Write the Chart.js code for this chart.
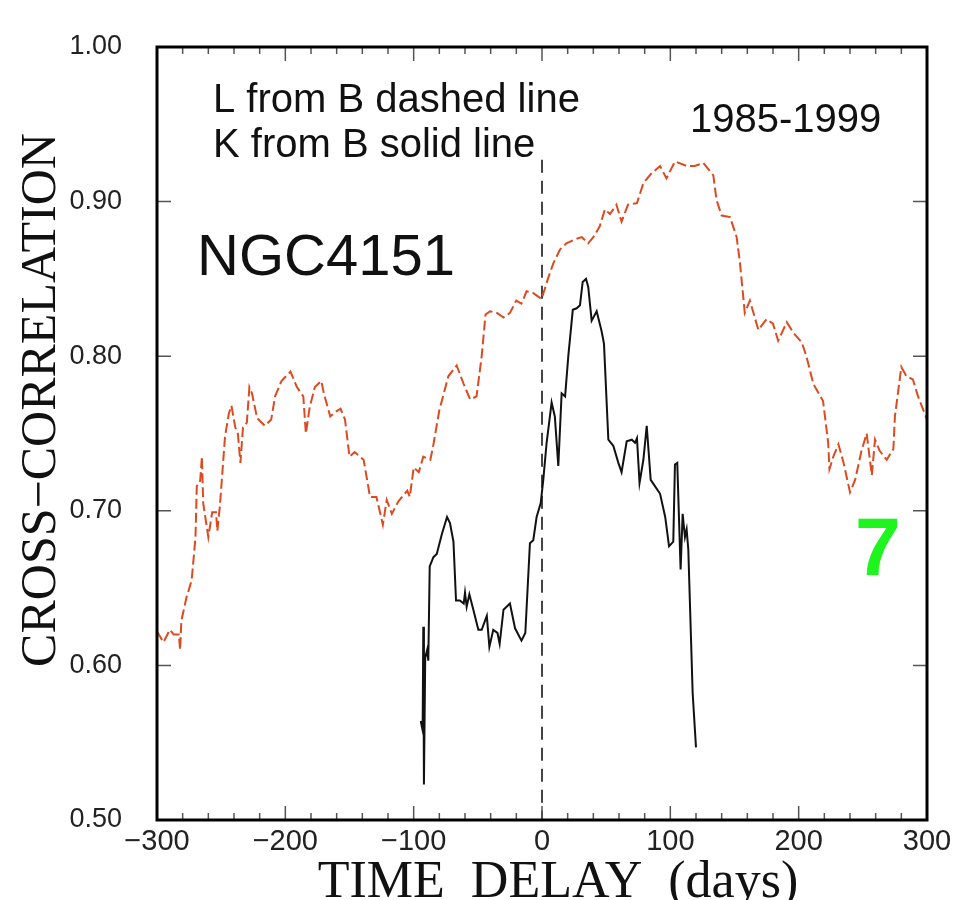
<!DOCTYPE html>
<html>
<head>
<meta charset="utf-8">
<script src="https://cdn.jsdelivr.net/npm/chart.js@4.4.1/dist/chart.umd.min.js"></script>
<style>
  html, body { margin: 0; padding: 0; background: #fff; }
  #wrap { width: 958px; height: 900px; }
</style>
</head>
<body>
<div id="wrap"><canvas id="ccf"></canvas></div>
<script>
// L from B (dashed) cross-correlation
const lagL = [-300, -295, -290, -287, -283, -282, -281, -277, -273, -270, -269, -266.5, -265, -264, -260, -257, -254, -253, -251,
  -247, -244, -242, -239, -237, -235, -233, -230, -228, -226, -222, -216, -211, -208, -203, -196, -191, -186, -184, -181,
  -177, -172, -170, -165, -161, -157, -153.5, -150, -146, -139, -134, -129, -124, -121, -117, -112, -105, -103, -100, -96,
  -92.5, -87, -85, -80, -73, -66.5, -61, -56, -51, -47, -44, -40.5, -35, -30, -25, -20, -16, -12, -7, -0.3, 5, 8.8, 14,
  19, 27, 31, 36, 40, 45, 49, 53, 58, 62, 67, 74, 79, 85, 92, 97, 103.6, 113, 119, 125.7, 133.5, 136, 140, 146.5, 151.7,
  154.3, 158, 162, 168.6, 175, 180, 184, 190.7, 196, 202.4, 206, 211.5, 219, 223, 224, 227, 231, 235, 240, 244, 249, 253,
  257, 259.5, 263, 268.6, 273.8, 275, 280, 284, 289, 293, 300];
const corrL = [0.622, 0.615, 0.623, 0.620, 0.620, 0.610, 0.629, 0.644, 0.655, 0.683, 0.716, 0.718, 0.735, 0.705, 0.683, 0.699, 0.699, 0.687, 0.703,
  0.748, 0.763, 0.768, 0.754, 0.750, 0.731, 0.754, 0.757, 0.780, 0.776, 0.760, 0.755, 0.759, 0.774, 0.784, 0.790, 0.780, 0.774, 0.750, 0.767,
  0.780, 0.784, 0.776, 0.761, 0.764, 0.766, 0.759, 0.735, 0.738, 0.733, 0.709, 0.709, 0.691, 0.707, 0.698, 0.706, 0.713, 0.709, 0.728, 0.725,
  0.735, 0.733, 0.741, 0.765, 0.787, 0.794, 0.782, 0.772, 0.774, 0.800, 0.827, 0.829, 0.828, 0.825, 0.828, 0.836, 0.834, 0.842, 0.841, 0.837, 0.851, 0.860, 0.869,
  0.873, 0.876, 0.877, 0.873, 0.877, 0.884, 0.895, 0.892, 0.898, 0.887, 0.898, 0.899, 0.912, 0.918, 0.923, 0.915, 0.926, 0.923, 0.923, 0.925, 0.917, 0.901, 0.891, 0.890, 0.877,
  0.860, 0.828, 0.836, 0.817, 0.824, 0.821, 0.810, 0.822, 0.815, 0.809, 0.800, 0.782, 0.771, 0.744, 0.727, 0.735, 0.743, 0.731, 0.712, 0.720, 0.739, 0.750,
  0.723, 0.746, 0.739, 0.733, 0.740, 0.761, 0.793, 0.787, 0.785, 0.774, 0.759];

// K from B (solid) cross-correlation
const lagK = [-94.5, -93, -92.5, -92, -91, -89.5, -88.6, -87.5, -84.6, -82, -78, -74, -71.7, -69, -67, -64, -61, -60, -58.7, -56.6,
  -53.5, -49.6, -47, -43, -41, -38, -34.7, -33, -30, -25, -21, -16, -13, -9.4, -6.8, -4.2, -1, 1, 3.6, 7.5, 10, 12.7, 15.3,
  18, 20.5, 24, 27, 29.6, 31.7, 34.3, 36, 38.7, 42.6, 46.5, 48.3, 51.7, 55.6, 59.5, 62, 66, 70, 72.5, 74, 76, 79, 81.6,
  84.7, 88, 92, 96, 99, 102.3, 103.6, 105.4, 108, 109.6, 111.4, 112.7, 114, 117.4, 120];
const corrK = [0.564, 0.558, 0.625, 0.523, 0.605, 0.610, 0.603, 0.664, 0.670, 0.672, 0.685, 0.696, 0.692, 0.680, 0.642, 0.642, 0.640, 0.647, 0.638, 0.646,
  0.636, 0.623, 0.623, 0.632, 0.612, 0.623, 0.621, 0.614, 0.636, 0.640, 0.624, 0.616, 0.621, 0.679, 0.681, 0.696, 0.705, 0.720, 0.744, 0.770, 0.761, 0.729, 0.776,
  0.774, 0.800, 0.830, 0.831, 0.833, 0.848, 0.850, 0.845, 0.823, 0.829, 0.816, 0.808, 0.746, 0.742, 0.731, 0.725, 0.745, 0.746, 0.744, 0.747, 0.718, 0.733, 0.755,
  0.720, 0.716, 0.711, 0.696, 0.677, 0.680, 0.730, 0.731, 0.662, 0.698, 0.683, 0.688, 0.675, 0.582, 0.547];

// zero-lag marker
const zeroLag = [0, 0];
const zeroCorr = [0.927, 0.5];

const xTicks = [-300, -200, -100, 0, 100, 200, 300];
const yTicks = [0.5, 0.6, 0.7, 0.8, 0.9, 1.0];

const toPts = (xs, ys) => xs.map((x, i) => ({ x: x, y: ys[i] }));

const frameAndLabels = {
  id: 'frameAndLabels',
  afterDatasetsDraw(chart) {
    const { ctx, chartArea: a, scales: { x, y } } = chart;
    ctx.save();
    // inward ticks
    ctx.strokeStyle = '#555';
    ctx.lineWidth = 1.5;
    ctx.beginPath();
    for (let d = -300; d <= 300; d += 20) {
      const px = x.getPixelForValue(d);
      const len = d % 100 === 0 ? 14 : 7;
      ctx.moveTo(px, a.bottom); ctx.lineTo(px, a.bottom - len);
      ctx.moveTo(px, a.top); ctx.lineTo(px, a.top + len);
    }
    yTicks.forEach(v => {
      const py = y.getPixelForValue(v);
      ctx.moveTo(a.left, py); ctx.lineTo(a.left + 14, py);
      ctx.moveTo(a.right, py); ctx.lineTo(a.right - 14, py);
    });
    ctx.stroke();
    // frame
    ctx.strokeStyle = '#000';
    ctx.lineWidth = 3;
    ctx.strokeRect(a.left, a.top, a.right - a.left, a.bottom - a.top);

    // axis titles
    ctx.fillStyle = '#111';
    ctx.textAlign = 'center';
    ctx.textBaseline = 'alphabetic';
    ctx.font = '52px "Liberation Serif", "DejaVu Serif", serif';
    ctx.fillText('TIME  DELAY  (days)', 558, 897);
    ctx.save();
    ctx.translate(55, 400);
    ctx.rotate(-Math.PI / 2);
    ctx.font = '50px "Liberation Serif", "DejaVu Serif", serif';
    ctx.fillText('CROSS\u2212CORRELATION', 0, 0);
    ctx.restore();

    // annotations
    ctx.textAlign = 'left';
    ctx.font = '40px "Liberation Sans", Arial, sans-serif';
    ctx.fillText('L from B dashed line', 213, 112);
    ctx.fillText('K from B solid line', 213, 157);
    ctx.fillText('1985-1999', 690, 132);
    ctx.font = '58px "Liberation Sans", Arial, sans-serif';
    ctx.fillText('NGC4151', 197, 275);
    ctx.fillStyle = '#1ef51e';
    ctx.font = 'bold 82px "Liberation Sans", Arial, sans-serif';
    ctx.fillText('7', 855, 575);
    ctx.restore();
  }
};

const ctx = document.getElementById('ccf').getContext('2d');
new Chart(ctx, {
  type: 'line',
  data: {
    datasets: [
      {
        data: toPts(lagL, corrL),
        borderColor: '#dc4a20',
        borderWidth: 2,
        borderDash: [10, 4],
        pointRadius: 0,
        tension: 0,
      },
      {
        data: toPts(lagK, corrK),
        borderColor: '#111',
        borderWidth: 2,
        pointRadius: 0,
        tension: 0,
      },
      {
        data: toPts(zeroLag, zeroCorr),
        borderColor: '#444',
        borderWidth: 2,
        borderDash: [13, 8],
        pointRadius: 0,
      },
    ],
  },
  options: {
    responsive: true,
    maintainAspectRatio: false,
    animation: false,
    layout: { padding: { top: 47, right: 31, left: 0, bottom: 0 } },
    plugins: {
      legend: { display: false },
      tooltip: { enabled: false },
    },
    scales: {
      x: {
        type: 'linear',
        min: -300,
        max: 300,
        afterFit: (s) => { s.height = 80; },
        afterBuildTicks: (s) => { s.ticks = xTicks.map(v => ({ value: v })); },
        grid: { display: false },
        border: { display: false },
        ticks: {
          padding: -3,
          color: '#222',
          font: { family: '"Liberation Sans", Arial, sans-serif', size: 29 },
          callback: (v) => (v < 0 ? '\u2212' + Math.abs(v) : String(v)),
        },
      },
      y: {
        min: 0.5,
        max: 1.0,
        afterFit: (s) => { s.width = 157; },
        afterBuildTicks: (s) => { s.ticks = yTicks.map(v => ({ value: v })); },
        grid: { display: false },
        border: { display: false },
        ticks: {
          padding: 27,
          color: '#222',
          font: { family: '"Liberation Sans", Arial, sans-serif', size: 27 },
          callback: (v) => v.toFixed(2),
        },
      },
    },
  },
  plugins: [frameAndLabels],
});
</script>
</body>
</html>
